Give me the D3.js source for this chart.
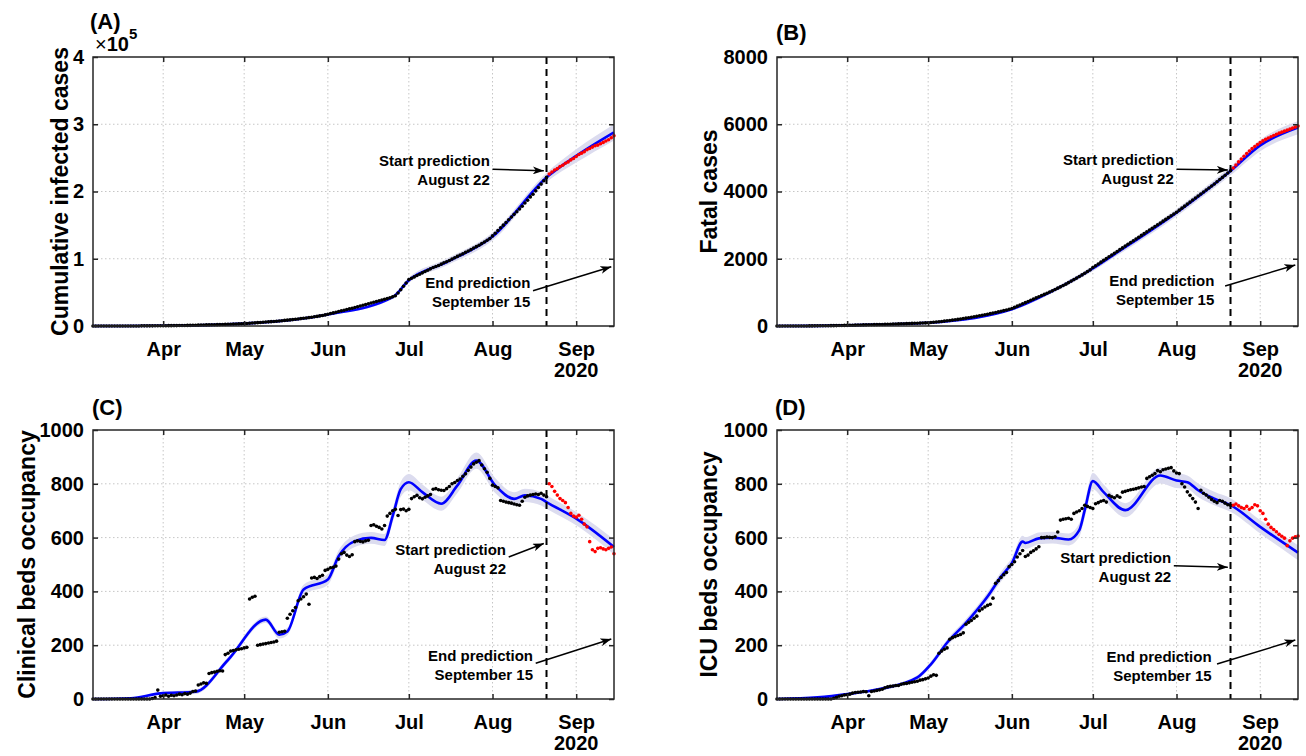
<!DOCTYPE html>
<html>
<head>
<meta charset="utf-8">
<script src="https://cdn.jsdelivr.net/npm/d3@7"></script>
<style>
  body { margin: 0; background: #fff; }
  svg text { font-family: "Liberation Sans", Arial, Helvetica, sans-serif; font-weight: bold; fill: #000; }
</style>
</head>
<body>
<svg id="chart" width="1306" height="756"></svg>
<script>
const parseDate = d3.timeParse('%Y-%m-%d');

// time frame shared by the four panels
const firstDay = '2020-03-06';
const lastDay = '2020-09-15';
const predictionLine = '2020-08-21';
const predictionFirstDay = '2020-08-22';
const monthTicks = ['2020-04-01', '2020-05-01', '2020-06-01', '2020-07-01', '2020-08-01', '2020-09-01'];
const monthLabels = ['Apr', 'May', 'Jun', 'Jul', 'Aug', 'Sep'];
const yearLabel = '2020';

// (A) cumulative infected cases, x10^5, one value per day from Mar 6 to Aug 21
const casesObs = [
  0, 0, 0, 0, 0, 0, 0, 0, 0, 0, 0, 0, 0, 0.001, 0.001, 0.001, 0.001, 0.001, 0.002, 0.002, 0.002, 0.002, 0.002, 0.003, 0.003, 0.003,
  0.004, 0.004, 0.005, 0.005, 0.006, 0.006, 0.007, 0.008, 0.008, 0.009, 0.010, 0.011, 0.012, 0.013, 0.014, 0.015, 0.016, 0.017, 0.018, 0.019, 0.020, 0.021, 0.022, 0.024, 0.025, 0.027, 0.028, 0.030, 0.032, 0.034,
  0.036, 0.038, 0.041, 0.044, 0.047, 0.050, 0.053, 0.056, 0.059, 0.062, 0.065, 0.068, 0.071, 0.075, 0.079, 0.083, 0.087, 0.091, 0.095, 0.100, 0.105, 0.110, 0.115, 0.120, 0.125, 0.131, 0.137, 0.143, 0.150, 0.157, 0.165,
  0.175, 0.185, 0.195, 0.205, 0.215, 0.225, 0.235, 0.245, 0.255, 0.265, 0.276, 0.287, 0.298, 0.309, 0.320, 0.331, 0.342, 0.353, 0.364, 0.375, 0.386, 0.397, 0.409, 0.421, 0.435, 0.45, 0.49, 0.54, 0.59, 0.64,
  0.69, 0.71, 0.73, 0.75, 0.77, 0.79, 0.81, 0.83, 0.85, 0.87, 0.885, 0.90, 0.92, 0.94, 0.955, 0.975, 0.995, 1.015, 1.035, 1.055, 1.075, 1.095, 1.115, 1.135, 1.16, 1.18, 1.20, 1.225, 1.25, 1.275, 1.30,
  1.34, 1.38, 1.42, 1.46, 1.50, 1.54, 1.58, 1.62, 1.66, 1.70, 1.74, 1.78, 1.83, 1.87, 1.92, 1.96, 2.01, 2.06, 2.11, 2.16, 2.21
];
// observed after the start of the prediction, Aug 22 to Sep 15
const casesPred = [2.26, 2.29, 2.32, 2.34, 2.37, 2.39, 2.42, 2.44, 2.47, 2.49, 2.52, 2.55, 2.57, 2.59, 2.62, 2.64, 2.66, 2.68, 2.69, 2.71, 2.73, 2.75, 2.77, 2.80, 2.83];
const casesFitDates = ['2020-03-06', '2020-04-01', '2020-05-01', '2020-06-01', '2020-06-25', '2020-07-01', '2020-07-15', '2020-08-01', '2020-08-21', '2020-09-01', '2020-09-15'];
const casesFit = [0, 0.004, 0.036, 0.17, 0.43, 0.68, 0.95, 1.33, 2.21, 2.53, 2.88];
const casesBand = [0, 0.005, 0.01, 0.02, 0.03, 0.04, 0.05, 0.06, 0.07, 0.10, 0.12];

// (B) fatal cases
const deathsObs = [
  0, 0, 0, 0, 0, 0, 0, 0, 1, 1, 2, 2, 3, 3, 4, 5, 6, 7, 8, 9, 10, 11, 12, 14, 16, 18,
  20, 22, 24, 26, 28, 30, 32, 34, 36, 38, 40, 42, 44, 46, 48, 50, 53, 56, 59, 62, 65, 68, 71, 74, 77, 80, 83, 86, 89, 92,
  97, 104, 111, 119, 127, 136, 145, 155, 165, 175, 186, 197, 209, 221, 234, 247, 260, 274, 288, 303, 318, 334, 350, 367, 384, 402, 420, 439, 458, 478, 498,
  520, 555, 590, 625, 660, 695, 730, 765, 800, 835, 870, 905, 940, 975, 1010, 1045, 1085, 1125, 1165, 1205, 1245, 1290, 1335, 1380, 1425, 1470, 1520, 1570, 1620, 1670,
  1740, 1793, 1846, 1899, 1952, 2005, 2058, 2111, 2164, 2217, 2270, 2323, 2376, 2429, 2482, 2535, 2588, 2641, 2694, 2747, 2800, 2853, 2906, 2959, 3012, 3065, 3118, 3171, 3224, 3277, 3330,
  3385, 3445, 3505, 3565, 3625, 3685, 3745, 3805, 3865, 3925, 3985, 4045, 4105, 4165, 4225, 4290, 4355, 4420, 4485, 4550, 4615
];
const deathsPred = [4700, 4790, 4880, 4965, 5050, 5130, 5205, 5275, 5340, 5400, 5455, 5505, 5550, 5590, 5630, 5665, 5700, 5735, 5765, 5795, 5825, 5855, 5885, 5915, 5945];
const deathsFitDates = ['2020-03-06', '2020-04-01', '2020-05-01', '2020-06-01', '2020-06-15', '2020-07-01', '2020-07-08', '2020-08-01', '2020-08-21', '2020-09-01', '2020-09-15'];
const deathsFit = [0, 20, 95, 500, 1000, 1710, 2080, 3370, 4610, 5370, 5900];
const deathsBand = [0, 10, 20, 40, 60, 80, 90, 110, 130, 170, 200];

// (C) clinical beds occupancy
const bedsObs = [
  0, 0, 0, 0, 0, 0, 0, 0, 0, 0, 0, 0, 0, 0, 0, 0, 0, 0, 0, 0, 0, 0, 2, 5, 33, 10,
  12, 15, 10, 14, 12, 15, 18, 16, 20, 18, 22, 28, 30, 52, 56, 60, 58, 95, 98, 100, 103, 105, 104, 165, 170, 178, 180, 183, 185, 187,
  190, 192, 372, 378, 382, 200, 202, 204, 206, 208, 210, 212, 215, 248, 250, 252, 300, 315, 328, 340, 365, 372, 380, 390, 352, 450, 452, 448, 455, 460, 478,
  482, 488, 490, 494, 520, 540, 545, 535, 530, 536, 585, 588, 586, 584, 588, 590, 645, 648, 642, 638, 632, 645, 680, 690, 700, 705, 682, 704, 706, 700,
  705, 745, 752, 757, 748, 744, 750, 755, 760, 780, 782, 778, 776, 775, 782, 790, 800, 805, 812, 818, 828, 837, 850, 862, 874, 880, 886, 870, 856, 843, 820,
  795, 790, 785, 738, 735, 732, 730, 728, 725, 722, 720, 735, 750, 755, 758, 760, 762, 760, 765, 758, 752
];
const bedsPred = [800, 790, 772, 758, 745, 738, 730, 712, 690, 680, 676, 683, 668, 650, 640, 585, 555, 548, 560, 562, 558, 555, 560, 565, 540];
const bedsFitDates = ['2020-03-06', '2020-03-20', '2020-03-31', '2020-04-13', '2020-04-25', '2020-05-09', '2020-05-14', '2020-05-17', '2020-05-23', '2020-06-01', '2020-06-05', '2020-06-11', '2020-06-17', '2020-06-22', '2020-06-25', '2020-06-28', '2020-07-01', '2020-07-06', '2020-07-13', '2020-07-19', '2020-07-26', '2020-08-02', '2020-08-09', '2020-08-13', '2020-08-19', '2020-08-21', '2020-09-02', '2020-09-15'];
const bedsFit = [0, 3, 21, 27, 145, 295, 239, 251, 407, 444, 531, 587, 599, 591, 680, 780, 806, 769, 726, 794, 886, 794, 744, 757, 744, 732, 664, 565];
const bedsBand = [0, 2, 5, 8, 10, 12, 14, 14, 18, 20, 22, 22, 22, 22, 25, 28, 30, 28, 26, 28, 30, 28, 25, 25, 25, 25, 25, 28];

// (D) ICU beds occupancy
const icuObs = [
  0, 0, 0, 0, 0, 0, 0, 0, 0, 0, 0, 0, 0, 0, 0, 0, 0, 0, 0, 0, 0, 3, 6, 10, 12, 15,
  16, 18, 22, 24, 25, 26, 28, 27, 12, 28, 30, 32, 34, 36, 42, 45, 47, 48, 50, 50, 55, 57, 58, 60, 62, 64, 66, 70, 72, 75,
  78, 85, 90, 88, 170, 178, 185, 190, 222, 228, 232, 236, 240, 246, 278, 285, 292, 300, 308, 328, 335, 342, 348, 352, 375, 430, 440, 452, 462, 470, 492,
  500, 510, 528, 540, 552, 530, 535, 545, 551, 558, 566, 600, 600, 602, 601, 600, 603, 621, 665, 668, 670, 672, 668, 690, 695, 700, 708, 720, 716, 712,
  708, 726, 730, 735, 738, 732, 757, 752, 748, 755, 750, 769, 772, 775, 778, 780, 782, 785, 788, 790, 820, 826, 832, 838, 849, 845, 852, 855, 858, 860, 848,
  840, 838, 800, 788, 770, 757, 745, 732, 708, 776, 765, 758, 750, 742, 735, 730, 738, 735, 728, 722, 720
];
const icuPred = [720, 725, 718, 712, 708, 716, 705, 712, 722, 718, 700, 690, 668, 650, 638, 630, 622, 612, 605, 598, 570, 588, 598, 603, 606];
const icuFitDates = ['2020-03-06', '2020-03-21', '2020-04-01', '2020-04-13', '2020-04-27', '2020-05-02', '2020-05-08', '2020-05-15', '2020-05-23', '2020-05-28', '2020-06-01', '2020-06-05', '2020-06-06', '2020-06-11', '2020-06-16', '2020-06-22', '2020-06-26', '2020-06-28', '2020-07-01', '2020-07-05', '2020-07-13', '2020-07-26', '2020-08-01', '2020-08-05', '2020-08-09', '2020-08-15', '2020-08-21', '2020-09-01', '2020-09-15'];
const icuFit = [0, 6, 18, 37, 80, 129, 209, 283, 381, 455, 505, 585, 580, 597, 600, 593, 628, 702, 810, 769, 702, 831, 812, 806, 776, 745, 721, 640, 544];
const icuBand = [0, 2, 4, 6, 8, 10, 12, 14, 16, 18, 20, 22, 22, 22, 22, 22, 25, 28, 30, 28, 26, 30, 28, 25, 25, 25, 25, 25, 28];

// "Start prediction" / "End prediction" call-outs, in data coordinates
const casesNotes = [
  { lines: ['Start prediction', 'August 22'], text: ['2020-07-31', 2.38], tail: ['2020-08-01', 2.33], head: ['2020-08-20', 2.31] },
  { lines: ['End prediction', 'September 15'], text: ['2020-08-15', 0.565], tail: ['2020-08-16', 0.525], head: ['2020-09-14', 0.88] }
];
const deathsNotes = [
  { lines: ['Start prediction', 'August 22'], text: ['2020-07-31', 4788], tail: ['2020-08-01', 4660], head: ['2020-08-20', 4640] },
  { lines: ['End prediction', 'September 15'], text: ['2020-08-15', 1175], tail: ['2020-08-19', 1190], head: ['2020-09-14', 1814] }
];
const bedsNotes = [
  { lines: ['Start prediction', 'August 22'], text: ['2020-08-06', 537], tail: ['2020-08-07', 528], head: ['2020-08-20', 578] },
  { lines: ['End prediction', 'September 15'], text: ['2020-08-16', 143], tail: ['2020-08-17', 133], head: ['2020-09-14', 223] }
];
const icuNotes = [
  { lines: ['Start prediction', 'August 22'], text: ['2020-07-30', 504], tail: ['2020-07-31', 495], head: ['2020-08-20', 490] },
  { lines: ['End prediction', 'September 15'], text: ['2020-08-14', 139], tail: ['2020-08-16', 130], head: ['2020-09-14', 219] }
];

const panels = [
  { left: 93, top: 57, yMax: 4, yTicks: [0, 1, 2, 3, 4], obs: casesObs, pred: casesPred, fitDates: casesFitDates, fit: casesFit, band: casesBand, notes: casesNotes,
    title: '(A)', titleX: 90, titleY: 29, ylabel: 'Cumulative infected cases', ylabelX: 68, exponent: true },
  { left: 777, top: 57, yMax: 8000, yTicks: [0, 2000, 4000, 6000, 8000], obs: deathsObs, pred: deathsPred, fitDates: deathsFitDates, fit: deathsFit, band: deathsBand, notes: deathsNotes,
    title: '(B)', titleX: 776, titleY: 40, ylabel: 'Fatal cases', ylabelX: 717 },
  { left: 93, top: 430, yMax: 1000, yTicks: [0, 200, 400, 600, 800, 1000], obs: bedsObs, pred: bedsPred, fitDates: bedsFitDates, fit: bedsFit, band: bedsBand, notes: bedsNotes,
    title: '(C)', titleX: 92, titleY: 415, ylabel: 'Clinical beds occupancy', ylabelX: 35 },
  { left: 777, top: 430, yMax: 1000, yTicks: [0, 200, 400, 600, 800, 1000], obs: icuObs, pred: icuPred, fitDates: icuFitDates, fit: icuFit, band: icuBand, notes: icuNotes,
    title: '(D)', titleX: 775, titleY: 415, ylabel: 'ICU beds occupancy', ylabelX: 717 }
];

const plotW = 521;
const plotH = 269;
const axisColor = '#262626';

const svg = d3.select('#chart');

svg.append('defs').append('marker')
  .attr('id', 'arrowhead')
  .attr('markerUnits', 'userSpaceOnUse')
  .attr('markerWidth', 11).attr('markerHeight', 8)
  .attr('refX', 11).attr('refY', 4)
  .attr('orient', 'auto')
  .append('path')
  .attr('d', 'M0,0 L11,4 L0,8 L3,4 Z')
  .attr('fill', '#000');

function daily(values, from) {
  const d0 = parseDate(from);
  return values.map((v, i) => ({ date: d3.timeDay.offset(d0, i), value: v }));
}

function drawPanel(p) {
  const g = svg.append('g');
  const bottom = p.top + plotH;
  const x = d3.scaleTime().domain([parseDate(firstDay), parseDate(lastDay)]).range([p.left, p.left + plotW]);
  const y = d3.scaleLinear().domain([0, p.yMax]).range([bottom, p.top]);
  const ticksX = monthTicks.map(parseDate);

  // dotted grid
  const grid = g.append('g').attr('stroke', '#c6c6c6').attr('stroke-width', 1).attr('stroke-dasharray', '1.5,2.5');
  grid.selectAll('.gx').data(ticksX).join('line')
    .attr('x1', d => x(d)).attr('x2', d => x(d)).attr('y1', p.top).attr('y2', bottom);
  grid.selectAll('.gy').data(p.yTicks.slice(1, -1)).join('line')
    .attr('x1', p.left).attr('x2', p.left + plotW).attr('y1', d => y(d)).attr('y2', d => y(d));

  // model fit with its band
  const fitData = p.fitDates.map((d, i) => ({ date: parseDate(d), value: p.fit[i], band: p.band[i] }));
  g.append('path').datum(fitData)
    .attr('d', d3.area().x(d => x(d.date)).y0(d => y(Math.max(0, d.value - d.band))).y1(d => y(d.value + d.band)).curve(d3.curveMonotoneX))
    .attr('fill', '#dcdcef');
  g.append('path').datum(fitData)
    .attr('d', d3.line().x(d => x(d.date)).y(d => y(d.value)).curve(d3.curveMonotoneX))
    .attr('fill', 'none').attr('stroke', '#0000ff').attr('stroke-width', 2.6).attr('stroke-linejoin', 'round');

  // observations
  g.append('g').selectAll('circle').data(daily(p.obs, firstDay)).join('circle')
    .attr('cx', d => x(d.date)).attr('cy', d => y(d.value)).attr('r', 1.8).attr('fill', '#000');
  g.append('g').selectAll('circle').data(daily(p.pred, predictionFirstDay)).join('circle')
    .attr('cx', d => x(d.date)).attr('cy', d => y(d.value)).attr('r', 1.8).attr('fill', '#ff0000');

  // start of prediction
  g.append('line')
    .attr('x1', x(parseDate(predictionLine))).attr('x2', x(parseDate(predictionLine)))
    .attr('y1', p.top).attr('y2', bottom)
    .attr('stroke', '#000').attr('stroke-width', 2).attr('stroke-dasharray', '7,5');

  // axes, ticks pointing inward on all four sides
  const styleAxis = sel => {
    sel.select('.domain').remove();
    sel.selectAll('line').attr('stroke', axisColor).attr('stroke-width', 1.5);
    sel.selectAll('text').attr('font-size', 20).attr('fill', '#000')
      .attr('font-family', '"Liberation Sans", Arial, sans-serif').attr('font-weight', 'bold');
  };
  g.append('g').attr('transform', `translate(0,${bottom})`)
    .call(d3.axisBottom(x).tickValues(ticksX).tickFormat((d, i) => monthLabels[i]).tickSizeInner(-5).tickSizeOuter(0).tickPadding(16))
    .call(styleAxis);
  g.append('g').attr('transform', `translate(0,${p.top})`)
    .call(d3.axisTop(x).tickValues(ticksX).tickFormat('').tickSizeInner(-5).tickSizeOuter(0))
    .call(styleAxis);
  g.append('g').attr('transform', `translate(${p.left},0)`)
    .call(d3.axisLeft(y).tickValues(p.yTicks).tickFormat(d3.format('d')).tickSizeInner(-5).tickSizeOuter(0).tickPadding(9))
    .call(styleAxis);
  g.append('g').attr('transform', `translate(${p.left + plotW},0)`)
    .call(d3.axisRight(y).tickValues(p.yTicks).tickFormat('').tickSizeInner(-5).tickSizeOuter(0))
    .call(styleAxis);

  g.append('rect')
    .attr('x', p.left).attr('y', p.top).attr('width', plotW).attr('height', plotH)
    .attr('fill', 'none').attr('stroke', axisColor).attr('stroke-width', 1.5);

  g.append('text')
    .attr('x', x(ticksX[ticksX.length - 1])).attr('y', bottom + 51)
    .attr('text-anchor', 'middle').attr('font-size', 20)
    .text(yearLabel);

  // labels
  g.append('text')
    .attr('transform', `translate(${p.ylabelX},${p.top + plotH / 2}) rotate(-90)`)
    .attr('text-anchor', 'middle').attr('font-size', 23)
    .text(p.ylabel);
  g.append('text').attr('x', p.titleX).attr('y', p.titleY).attr('font-size', 22).text(p.title);

  if (p.exponent) {
    const e = g.append('text').attr('x', p.left + 2).attr('y', p.top - 6).attr('font-size', 20);
    e.append('tspan').attr('font-weight', 'normal').text('\u00d7');
    e.append('tspan').text('10');
    e.append('tspan').attr('dy', -12).attr('font-size', 15).text('5');
  }

  // call-outs
  p.notes.forEach(n => {
    const tx = x(parseDate(n.text[0]));
    const ty = y(n.text[1]);
    const t = g.append('text').attr('text-anchor', 'end').attr('font-size', 15);
    n.lines.forEach((line, i) => {
      t.append('tspan').attr('x', tx).attr('y', ty + i * 19).text(line);
    });
    g.append('line')
      .attr('x1', x(parseDate(n.tail[0]))).attr('y1', y(n.tail[1]))
      .attr('x2', x(parseDate(n.head[0]))).attr('y2', y(n.head[1]))
      .attr('stroke', '#000').attr('stroke-width', 1.5)
      .attr('marker-end', 'url(#arrowhead)');
  });
}

panels.forEach(drawPanel);
</script>
</body>
</html>
